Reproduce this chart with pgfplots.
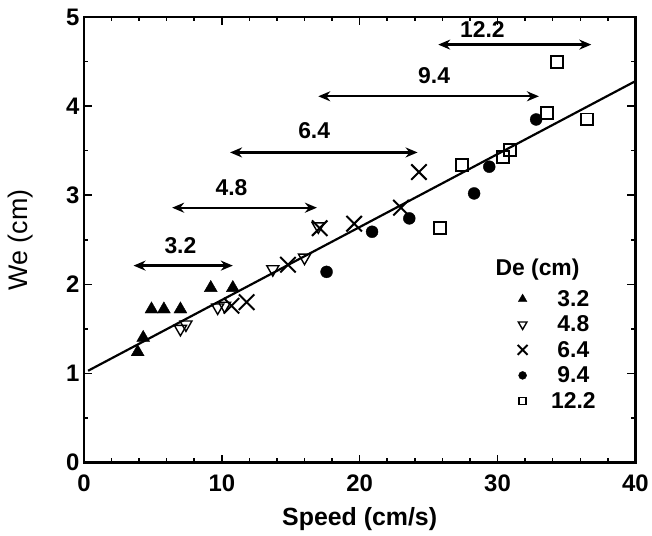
\documentclass[border=0pt]{standalone}
\usepackage{fontspec}
\setmainfont{Liberation Sans}
\usepackage{pgfplots}
\pgfplotsset{compat=1.18}
\usetikzlibrary{arrows.meta}
\newcommand{\lbl}{\bfseries\fontsize{23}{26}\selectfont}
\tikzset{rng/.style={{Stealth[length=12bp,width=10bp]}-{Stealth[length=12bp,width=10bp]}, line width=2.3pt}}
\begin{document}
\begin{tikzpicture}
\begin{axis}[
    scale only axis,
    width=552bp, height=446bp,
    xmin=0, xmax=40, ymin=0, ymax=5,
    xtick={0,10,20,30,40}, ytick={0,1,2,3,4,5},
    minor x tick num=4, minor y tick num=1,
    major tick length=8bp, minor tick length=4.5bp,
    axis line style={line width=2.2pt},
    every tick/.style={line width=1.5pt, black},
    tick label style={font=\bfseries\fontsize{24}{27}\selectfont},
    xticklabel style={yshift=-9bp},
    yticklabel style={xshift=-1bp},
    /pgf/number format/assume math mode=true,
    xlabel={Speed (cm/s)}, ylabel={We (cm)},
    xlabel style={font=\bfseries\fontsize{25}{28}\selectfont, at={(axis description cs:0.5,-0.127)}, anchor=center},
    ylabel style={font=\fontsize{27}{30}\selectfont, at={(axis description cs:-0.115,0.5)}, anchor=center},
    legend image code/.code={\draw[#1] plot coordinates {(0.3cm,0cm)}; \path (0cm,0cm) (1.2cm,0cm);},
    legend style={draw=none, fill=none, font=\lbl, at={(axis cs:30.9,1.98)}, anchor=north west,
        row sep=4bp},
]
% fit line
\addplot[line width=2.2pt, forget plot] coordinates {(0.3,1.03) (40,4.28)};
% De = 3.2
\addplot[only marks, mark=triangle*, mark size=7.5pt, forget plot] coordinates {
 (3.9,1.24) (4.3,1.40) (4.9,1.72) (5.8,1.72) (7.0,1.72) (9.2,1.96) (10.8,1.96)};
% De = 4.8
\addplot[only marks, mark=triangle, mark size=7pt, line width=1.4pt,
  every mark/.append style={rotate=180}, forget plot] coordinates {
 (7.0,1.50) (7.4,1.55) (9.7,1.74) (10.2,1.76) (13.7,2.17) (16.0,2.30) (17.0,2.65)};
% De = 6.4
\addplot[only marks, mark=x, mark size=11pt, line width=2pt, forget plot] coordinates {
 (10.7,1.76) (11.8,1.80) (14.8,2.22) (17.1,2.63) (19.6,2.68) (23.0,2.86) (24.3,3.26)};
% De = 9.4
\addplot[only marks, mark=*, mark size=6pt, forget plot] coordinates {
 (17.6,2.14) (20.9,2.59) (23.6,2.74) (28.3,3.02) (29.4,3.32) (32.8,3.85)};
% De = 12.2
\addplot[only marks, mark=square, mark size=6pt, line width=2pt, forget plot] coordinates {
 (25.8,2.63) (27.4,3.34) (30.4,3.43) (30.9,3.51) (33.6,3.92) (34.3,4.50) (36.5,3.85)};
% range arrows
\addplot[rng, forget plot] coordinates {(3.6,2.21) (10.8,2.21)};
\addplot[rng, forget plot] coordinates {(6.4,2.86) (16.9,2.86)};
\addplot[rng, forget plot] coordinates {(10.6,3.48) (24.2,3.48)};
\addplot[rng, forget plot] coordinates {(17.0,4.11) (33.0,4.11)};
\addplot[rng, forget plot] coordinates {(25.7,4.69) (36.8,4.69)};
\node[font=\lbl] at (axis cs:7.0,2.43) {3.2};
\node[font=\lbl] at (axis cs:10.7,3.08) {4.8};
\node[font=\lbl] at (axis cs:16.7,3.72) {6.4};
\node[font=\lbl] at (axis cs:25.4,4.34) {9.4};
\node[font=\lbl] at (axis cs:28.9,4.86) {12.2};
% legend
\node[font=\lbl, anchor=west] at (axis cs:29.6,2.16) {De (cm)};
\addlegendimage{only marks, mark=triangle*, mark size=5pt}
\addlegendentry{3.2}
\addlegendimage{only marks, mark=triangle, mark size=5pt, line width=1.4pt, every mark/.append style={rotate=180}}
\addlegendentry{4.8}
\addlegendimage{only marks, mark=x, mark size=7pt, line width=2pt}
\addlegendentry{6.4}
\addlegendimage{only marks, mark=*, mark size=4pt}
\addlegendentry{9.4}
\addlegendimage{only marks, mark=square, mark size=3.5pt, line width=1.6pt}
\addlegendentry{12.2}
\end{axis}
% page margins
\path ([shift={(-84bp,-73bp)}]current axis.south west) rectangle ([shift={(16bp,17bp)}]current axis.north east);
\end{tikzpicture}
\end{document}
